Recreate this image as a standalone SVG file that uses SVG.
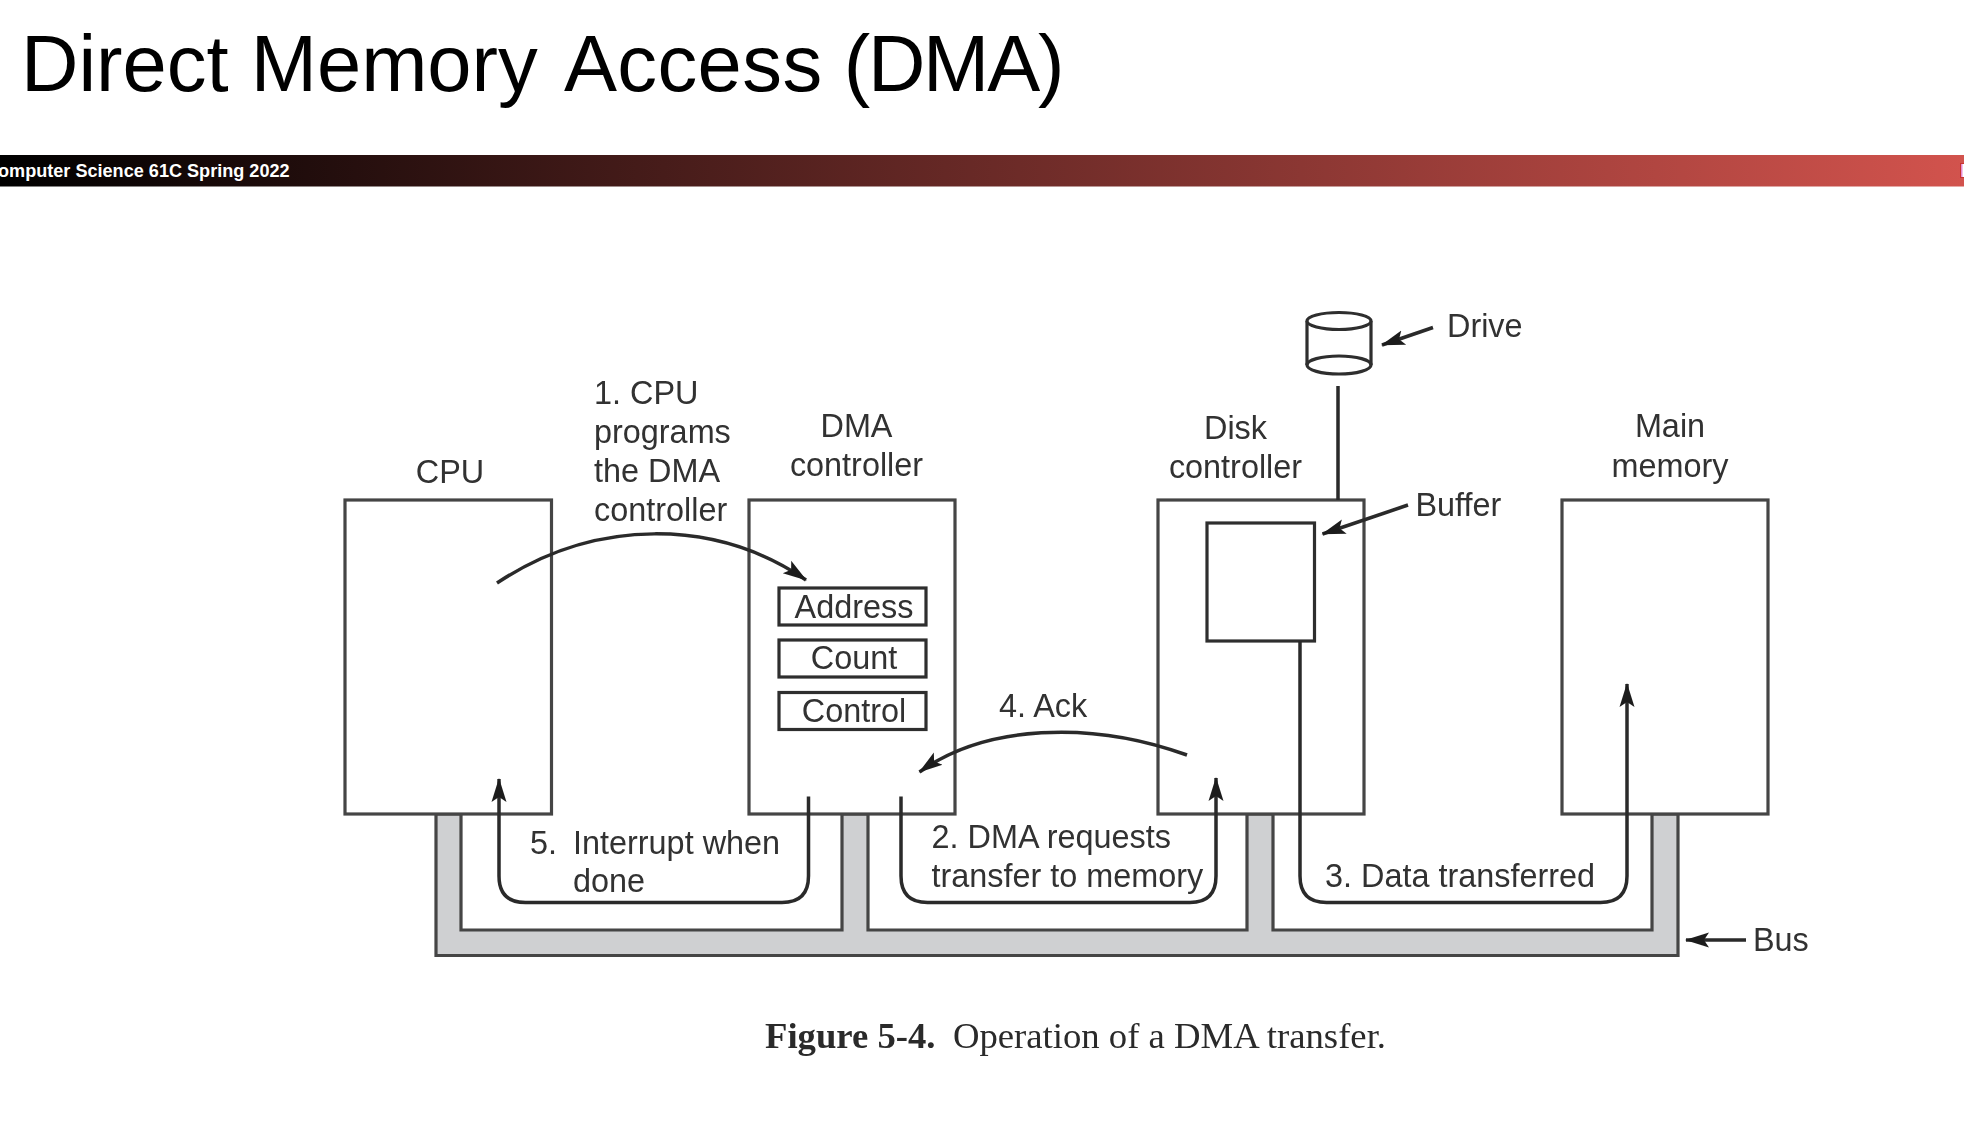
<svg xmlns="http://www.w3.org/2000/svg" width="1964" height="1126" viewBox="0 0 1964 1126">
<style>
text{font-family:"Liberation Sans",Arial,sans-serif;fill:#303030;font-size:32.4px}
.m{text-anchor:middle}
.box{fill:#fff;stroke:#454545;stroke-width:3.2}
.reg{fill:#fff;stroke:#2e2e2e;stroke-width:3.2}
.c{fill:none;stroke:#2a2a2a;stroke-width:3.5;stroke-linecap:butt}
.a{marker-end:url(#ah)}
.cap{font-family:"Liberation Serif","Times New Roman",serif;font-size:36.7px;fill:#2a2a2a}
</style>
<defs>
<linearGradient id="bar" x1="0" x2="1" y1="0" y2="0"><stop offset="0" stop-color="#000"/><stop offset="1" stop-color="#d2534d"/></linearGradient>
<marker id="ah" markerUnits="userSpaceOnUse" markerWidth="28" markerHeight="20" refX="23" refY="10" orient="auto"><path d="M0,2.5 L24,10 L0,17.5 L5,10 z" fill="#1f1f1f"/></marker>
<filter id="soft" x="0" y="0" width="1964" height="1126" filterUnits="userSpaceOnUse"><feGaussianBlur stdDeviation="0.55"/></filter>
</defs>
<rect width="1964" height="1126" fill="#fff"/>
<g id="header">
<text x="21" y="90.5" style="font-size:79.5px;fill:#000">Direct Memory <tspan dx="4" letter-spacing="0.4">Access</tspan> <tspan dx="-1" letter-spacing="-2.2">(DMA)</tspan></text>
<rect x="0" y="155" width="1964" height="31.5" fill="url(#bar)"/>
<text x="-2" y="176.5" style="font-size:18.1px;font-weight:bold;fill:#fff">omputer Science 61C Spring 2022</text>
<rect x="1960.5" y="163.5" width="5" height="14" fill="#fff" stroke="#c8332f" stroke-width="1"/>
<rect x="1961" y="164" width="1.5" height="13" fill="#e58bd0"/>
</g>
<g id="figure" filter="url(#soft)">
<g id="bus">
<path d="M436,814V955.5H1678V814H1652V930H1273V814H1247V930H868V814H842V930H461V814Z" fill="#cfd0d2" stroke="#454545" stroke-width="3.2"/>
<text x="1753" y="951">Bus</text>
</g>
<g id="cpu">
<rect class="box" x="345" y="500" width="206.5" height="314"/>
<text class="m" x="450" y="483">CPU</text>
</g>
<g id="dma-controller">
<rect class="box" x="749" y="500" width="206" height="314"/>
<text class="m" x="856.5" y="436.5">DMA</text>
<text class="m" x="856.5" y="475.5">controller</text>
<rect class="reg" x="779" y="588" width="147" height="37"/>
<text class="m" x="854" y="618">Address</text>
<rect class="reg" x="779" y="640" width="147" height="37"/>
<text class="m" x="854" y="669">Count</text>
<rect class="reg" x="779" y="692.5" width="147" height="37"/>
<text class="m" x="854" y="722">Control</text>
</g>
<g id="disk-controller">
<rect class="box" x="1158" y="500" width="206" height="314"/>
<text class="m" x="1235.5" y="439">Disk</text>
<text class="m" x="1235.5" y="478">controller</text>
<rect class="reg" x="1207" y="523" width="107.5" height="118"/>
<text x="1415.5" y="515.5">Buffer</text>
</g>
<g id="main-memory">
<rect class="box" x="1562" y="500" width="206" height="314"/>
<text class="m" x="1670" y="437">Main</text>
<text class="m" x="1670" y="477">memory</text>
</g>
<g id="drive">
<path d="M1307,321V365A32,9 0 0 0 1371,365V321" fill="#fff" stroke="#2e2e2e" stroke-width="3.2"/>
<ellipse cx="1339" cy="321" rx="32" ry="8.5" fill="#fff" stroke="#2e2e2e" stroke-width="3.2"/>
<path d="M1307,365A32,9 0 0 1 1371,365" fill="none" stroke="#2e2e2e" stroke-width="3.2"/>
<text x="1447" y="336.5">Drive</text>
</g>
<g id="connectors">
<path class="c" d="M1338,386V500"/>
<path class="c a" d="M1433,327.5L1382,345"/>
<path class="c a" d="M1408,505L1322.5,534"/>
<path class="c a" d="M1746,940H1686"/>
<path class="c a" d="M497,583C595,518 715,518 806,580"/>
<path class="c a" d="M1187,755C1090,720 985,725 919.5,772"/>
<path class="c a" d="M808.5,796.5V876Q808.5,902.5 782,902.5H525.5Q499,902.5 499,876V779"/>
<path class="c a" d="M901,796.5V876Q901,902.5 927.5,902.5H1190Q1216,902.5 1216,876V778"/>
<path class="c a" d="M1300,641V876Q1300,902.5 1326.5,902.5H1600.5Q1627,902.5 1627,876V684"/>
</g>
<g id="labels">
<text x="594" y="403.5">1. CPU</text>
<text x="594" y="442.5">programs</text>
<text x="594" y="481.5">the DMA</text>
<text x="594" y="520.5">controller</text>
<text x="530" y="854">5.</text>
<text x="573" y="854">Interrupt when</text>
<text x="573" y="892">done</text>
<text x="931.5" y="848">2. DMA requests</text>
<text x="931.5" y="886.5">transfer to memory</text>
<text x="1325" y="886.5">3. Data transferred</text>
<text x="999" y="717">4. Ack</text>
</g>
<g id="caption">
<text class="cap" x="765" y="1047.5" font-weight="bold">Figure 5-4.</text>
<text class="cap" x="953" y="1047.5">Operation of a DMA transfer.</text>
</g>
</g>
</svg>
